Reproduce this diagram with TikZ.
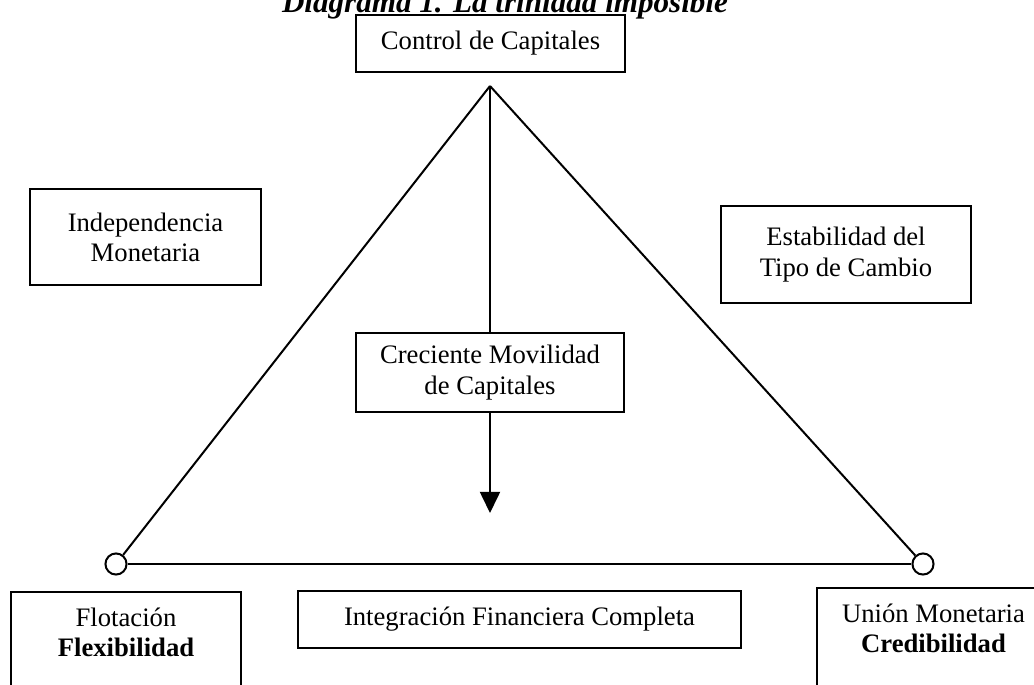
\documentclass[tikz,border=0pt]{standalone}
\usepackage{fontspec}
\setmainfont{Liberation Serif}
\usetikzlibrary{shapes, arrows.meta}
\tikzstyle{box} = [rectangle, draw, line width=0.9pt, inner sep=0pt, align=center, fill=white]
\tikzstyle{basebox} = [rectangle, draw, line width=0.9pt, anchor=north, inner xsep=0pt, align=center, text depth=60pt]
\tikzstyle{corner} = [circle, draw, line width=0.9pt, minimum size=9.5pt, inner sep=0pt, fill=white]
\tikzstyle{line} = [line width=0.9pt]
\tikzstyle{arrow} = [line width=0.9pt, -{Triangle[length=9.5pt, width=9pt]}]
\begin{document}
\begin{tikzpicture}[x=0.45pt, y=-0.45pt, font=\fontsize{12}{13.6}\selectfont]
\useasboundingbox (0,0) rectangle (1034,684);
\clip (0,0) rectangle (1034,684);
\node(title) [anchor=base, font=\fontsize{14}{16}\selectfont\bfseries\itshape] at (505,12) {Diagrama 1. La trinidad imposible};
\node(control) [box, minimum width=121pt, minimum height=25.7pt] at (490.5,43.5) {Control de Capitales};
\node(indep) [box, minimum width=104pt, minimum height=43.2pt] at (145.5,237) {Independencia\\Monetaria};
\node(estab) [box, minimum width=112.5pt, minimum height=43.7pt] at (846,254.5) {Estabilidad del\\Tipo de Cambio};
\node(movil) [box, minimum width=121pt, minimum height=35.6pt] at (490,372.5) {Creciente Movilidad\\de Capitales};
\node(integ) [box, minimum width=199.4pt, minimum height=25.7pt] at (519.5,619.5) {Integración Financiera Completa};
\node(flot) [basebox, minimum width=103.5pt, inner ysep=7pt] at (126,591) {Flotación\\\textbf{Flexibilidad}};
\node(union) [basebox, minimum width=105pt, inner ysep=7.2pt] at (933.5,587) {Unión Monetaria\\\textbf{Credibilidad}};
% triangle
\coordinate(apex) at (490,86);
\coordinate(tip) at (490,513);
\node(lcorner) [corner] at (116,564) {};
\node(rcorner) [corner] at (923,564) {};
\draw[line] (apex) -- (lcorner);
\draw[line] (apex) -- (rcorner);
\draw[line] (lcorner) -- (rcorner);
\draw[line] (apex) -- (movil);
\draw[arrow] (movil) -- (tip);
\end{tikzpicture}
\end{document}
